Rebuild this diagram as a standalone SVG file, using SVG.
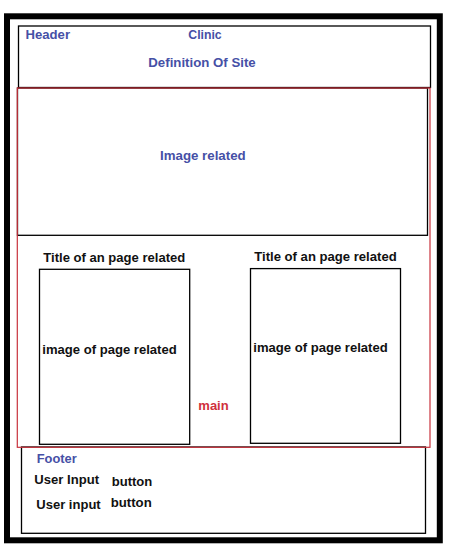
<svg xmlns="http://www.w3.org/2000/svg" width="450" height="548" viewBox="0 0 450 548">
  <style>
    .frame { fill: none; stroke: #000; stroke-width: 6; }
    .box { fill: none; stroke: #000; stroke-width: 1.3; }
    .mainbox { fill: none; stroke: #c8323c; stroke-width: 1.2; }
    text { font-family: "Liberation Sans", Arial, sans-serif; font-weight: bold; font-size: 13px; }
    .blue { fill: #4650a6; }
    .dark { fill: #111; }
    .red { fill: #d0303c; }
  </style>
  <rect width="450" height="548" fill="#fff"/>

  <!-- page frame -->
  <g id="page">
    <rect class="frame" x="7" y="16.3" width="432.8" height="524"/>
  </g>

  <!-- header section -->
  <g id="header">
    <rect class="box" x="18.5" y="26" width="412" height="61.5"/>
    <text class="blue" x="25.5" y="39" textLength="44.5" lengthAdjust="spacingAndGlyphs">Header</text>
    <text class="blue" x="188.3" y="39" textLength="33.4" lengthAdjust="spacingAndGlyphs">Clinic</text>
    <text class="blue" x="148.3" y="66.7" textLength="107.4" lengthAdjust="spacingAndGlyphs">Definition Of Site</text>
  </g>

  <!-- footer section -->
  <g id="footer">
    <rect class="box" x="21.5" y="447" width="404" height="86.3"/>
    <text class="blue" x="36.7" y="462.7" textLength="40" lengthAdjust="spacingAndGlyphs">Footer</text>
    <text class="dark" x="34.3" y="484.3" textLength="64.7" lengthAdjust="spacingAndGlyphs">User Input</text>
    <text class="dark" x="111.7" y="486.3" textLength="40.6" lengthAdjust="spacingAndGlyphs">button</text>
    <text class="dark" x="36.3" y="509" textLength="64.4" lengthAdjust="spacingAndGlyphs">User input</text>
    <text class="dark" x="110.7" y="506.7" textLength="41" lengthAdjust="spacingAndGlyphs">button</text>
  </g>

  <!-- banner image -->
  <g id="banner">
    <rect class="box" x="17.5" y="88" width="410" height="147.3"/>
    <text class="blue" x="160" y="160" textLength="85.7" lengthAdjust="spacingAndGlyphs">Image related</text>
  </g>

  <!-- page cards -->
  <g id="card-left">
    <text class="dark" x="43.3" y="262.3" textLength="142" lengthAdjust="spacingAndGlyphs">Title of an page related</text>
    <rect class="box" x="39.5" y="269.3" width="150.2" height="175"/>
    <text class="dark" x="42.3" y="353.5" textLength="134.4" lengthAdjust="spacingAndGlyphs">image of page related</text>
  </g>
  <g id="card-right">
    <text class="dark" x="254.3" y="261.3" textLength="142.4" lengthAdjust="spacingAndGlyphs">Title of an page related</text>
    <rect class="box" x="250.5" y="268.6" width="150" height="174.7"/>
    <text class="dark" x="253.3" y="352.4" textLength="134.4" lengthAdjust="spacingAndGlyphs">image of page related</text>
  </g>

  <!-- main content area -->
  <g id="main">
    <rect class="mainbox" x="17.3" y="88" width="412.7" height="359.3"/>
    <text class="red" x="198.3" y="410.3" textLength="30.4" lengthAdjust="spacingAndGlyphs">main</text>
  </g>

  <g id="connectors"/>
</svg>
